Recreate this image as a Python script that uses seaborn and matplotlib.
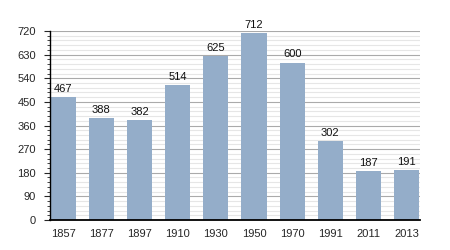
import matplotlib
matplotlib.use("Agg")
import matplotlib.pyplot as plt
import seaborn as sns
import pandas as pd
from matplotlib.ticker import MultipleLocator

years = ["1857", "1877", "1897", "1910", "1930", "1950", "1970", "1991", "2011", "2013"]
population = [467, 388, 382, 514, 625, 712, 600, 302, 187, 191]

df = pd.DataFrame({"year": years, "pop": population})

sns.set_style("white")
plt.rcParams["font.family"] = ["Liberation Sans", "DejaVu Sans"]

fig = plt.figure(figsize=(4.5, 2.5), dpi=100)
ax = fig.add_axes([0.111, 0.12, 0.822, 0.756])

ax.set_ylim(0, 720)
ax.yaxis.set_major_locator(MultipleLocator(90))
ax.yaxis.set_minor_locator(MultipleLocator(18))
ax.grid(which="minor", axis="y", color="#e6e6e6", linewidth=0.8)
ax.grid(which="major", axis="y", color="#aaaaaa", linewidth=0.8)
ax.set_axisbelow(True)

sns.barplot(data=df, x="year", y="pop", color="#94adc9", saturation=1,
            width=0.66, linewidth=0, edgecolor="none", ax=ax)
ax.set_xlim(-0.345, len(years) - 1 + 0.345)

for i, v in enumerate(population):
    ax.text(i, v + 12, str(v), ha="center", va="bottom", fontsize=8, color="#111111")

for s in ["top", "right"]:
    ax.spines[s].set_visible(False)
ax.spines["left"].set_color("black")
ax.spines["left"].set_linewidth(1.0)
ax.spines["bottom"].set_color("black")
ax.spines["bottom"].set_linewidth(1.3)

ax.tick_params(axis="y", which="major", left=True, length=4, width=0.8, labelsize=8, pad=6)
ax.tick_params(axis="y", which="minor", left=True, length=2, width=0.6)
ax.tick_params(axis="x", bottom=False, labelsize=8, pad=3)
ax.set_xlabel("")
ax.set_ylabel("")

fig.savefig("out.png", dpi=100)
